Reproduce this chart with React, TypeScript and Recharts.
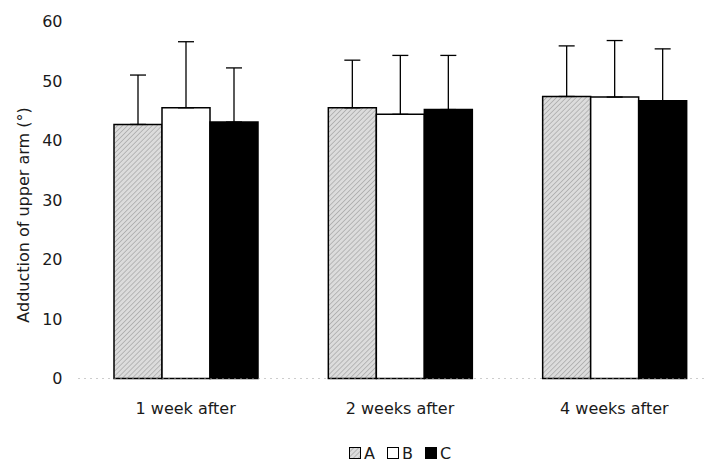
import React from 'react';
import { Bar, BarChart, ErrorBar, Legend, XAxis, YAxis } from 'recharts';

// values (mean and upward SD)
const categories = ['1 week after', '2 weeks after', '4 weeks after'];
const meanA = [42.7, 45.5, 47.4];
const meanB = [45.5, 44.4, 47.3];
const meanC = [43.1, 45.2, 46.7];
const sdA = [8.3, 8.0, 8.5];
const sdB = [11.1, 9.9, 9.5];
const sdC = [9.1, 9.1, 8.7];
const yTicks = [0, 10, 20, 30, 40, 50, 60];

const FONT = '"DejaVu Sans", sans-serif';

const rows = categories.map((name, i) => ({
  name,
  A: meanA[i],
  B: meanB[i],
  C: meanC[i],
  errA: [0, sdA[i]],
  errB: [0, sdB[i]],
  errC: [0, sdC[i]],
}));

const legendItems = [
  { key: 'A', fill: 'url(#texA)' },
  { key: 'B', fill: '#fff' },
  { key: 'C', fill: '#000' },
];

const LegendContent = () => (
  <div
    style={{
      display: 'flex',
      justifyContent: 'center',
      alignItems: 'center',
      fontFamily: FONT,
      fontSize: 16,
      color: '#1a1a1a',
      height: 20,
    }}
  >
    {legendItems.map((item, i) => (
      <span
        key={item.key}
        style={{ display: 'flex', alignItems: 'center', marginLeft: i === 0 ? 0 : 12 }}
      >
        <svg width={12} height={12} style={{ marginRight: 3 }}>
          <rect x={0.5} y={0.5} width={11} height={11} fill={item.fill} stroke="#000" />
        </svg>
        {item.key}
      </span>
    ))}
  </div>
);

const YTitle = () => (
  <text
    x={23}
    y={215}
    transform="rotate(-90 23 215)"
    textAnchor="middle"
    dominantBaseline="central"
    fontFamily={FONT}
    fontSize={16}
    fill="#1a1a1a"
  >
    Adduction of upper arm (°)
  </text>
);

export default function App() {
  return (
    <div style={{ position: 'absolute', left: 0, top: 0, width: 706, height: 465, background: '#fff' }}>
      <BarChart
        width={706}
        height={465}
        data={rows}
        margin={{ top: 21.5, right: -15.5, left: 0, bottom: 0 }}
        barCategoryGap={35.5}
        barGap={0}
      >
        <defs>
          <pattern id="texA" width="3.5" height="3.5" patternUnits="userSpaceOnUse" patternTransform="rotate(45)">
            <rect width="3.5" height="3.5" fill="#dcdcdc" />
            <line x1="0" y1="0" x2="0" y2="3.5" stroke="#8f8f8f" strokeWidth="1" />
          </pattern>
        </defs>
        <XAxis
          dataKey="name"
          height={66.5}
          axisLine={{ stroke: '#9a9a9a', strokeDasharray: '1 5' }}
          tickLine={false}
          tickSize={0}
          tickMargin={24}
          tick={{ fontSize: 16, fill: '#1a1a1a', fontFamily: FONT }}
        />
        <YAxis
          width={78.5}
          domain={[0, 60]}
          ticks={yTicks}
          axisLine={false}
          tickLine={false}
          tickSize={0}
          tickMargin={16}
          tick={{ fontSize: 16, fill: '#1a1a1a', fontFamily: FONT }}
          label={<YTitle />}
        />
        <Legend
          verticalAlign="bottom"
          content={<LegendContent />}
          wrapperStyle={{ left: 300, width: 200, height: 20, top: 443 }}
        />
        <Bar dataKey="A" fill="url(#texA)" stroke="#000" strokeWidth={1.5} isAnimationActive={false}>
          <ErrorBar dataKey="errA" width={8} stroke="#000" strokeWidth={1.3} direction="y" isAnimationActive={false} />
        </Bar>
        <Bar dataKey="B" fill="#fff" stroke="#000" strokeWidth={1.5} isAnimationActive={false}>
          <ErrorBar dataKey="errB" width={8} stroke="#000" strokeWidth={1.3} direction="y" isAnimationActive={false} />
        </Bar>
        <Bar dataKey="C" fill="#000" stroke="#000" strokeWidth={1.5} isAnimationActive={false}>
          <ErrorBar dataKey="errC" width={8} stroke="#000" strokeWidth={1.3} direction="y" isAnimationActive={false} />
        </Bar>
      </BarChart>
    </div>
  );
}
